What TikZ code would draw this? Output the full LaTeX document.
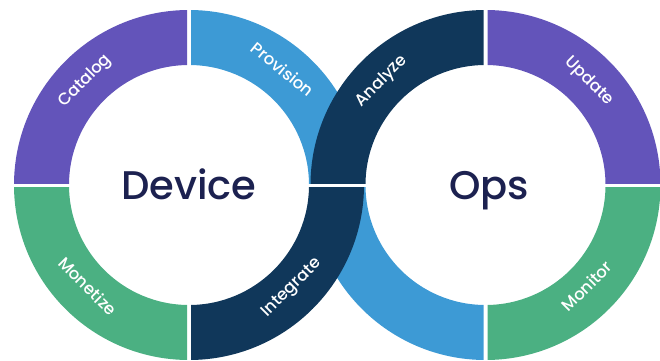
\documentclass[tikz,border=0pt]{standalone}
\usepackage{fontspec}
\setmainfont{Poppins}
\newfontfamily\medfont{Poppins Medium}
\definecolor{segPurple}{RGB}{99,84,186}
\definecolor{segBlue}{RGB}{61,154,213}
\definecolor{segNavy}{RGB}{16,55,90}
\definecolor{segGreen}{RGB}{75,176,130}
\definecolor{hubText}{RGB}{28,33,80}

% one quarter of a ring: centre, x side, y side, colour
\newcommand\ringpart[4]{%
  \begin{scope}[shift={(#1)}]
    \clip (2*#2,2*#3) rectangle (200*#2,200*#3);
    \fill[#4, even odd rule] (0,0) circle (175) (0,0) circle (120);
  \end{scope}}

\begin{document}
\begin{tikzpicture}[x=1pt, y=1pt, inner sep=0pt,
    hub/.style={text=hubText, anchor=base, font=\medfont\fontsize{40}{40}\selectfont},
    lab/.style={text=white, text height=1.6ex, text depth=0.4ex,
      font=\medfont\fontsize{16.5}{16.5}\selectfont}]
  \useasboundingbox (0,0) rectangle (660,360);
  \coordinate (L) at (189,175);
  \coordinate (R) at (485.5,175);
  \ringpart{L}{-1}{1}{segPurple}
  \ringpart{L}{-1}{-1}{segGreen}
  \ringpart{L}{1}{1}{segBlue}
  \ringpart{R}{-1}{-1}{segBlue}
  \ringpart{R}{1}{1}{segPurple}
  \ringpart{R}{1}{-1}{segGreen}
  \ringpart{L}{1}{-1}{segNavy}
  \ringpart{R}{-1}{1}{segNavy}
  \path node (Lh) at ([yshift=-14]L) [hub] {Device}
        node (La) at ([shift={(135:146)}]L) [lab, rotate=45]  {Catalog}
        node (Lb) at ([shift={(51:146)}]L)  [lab, rotate=-39] {Provision}
        node (Lc) at ([shift={(-45:146)}]L) [lab, rotate=45]  {Integrate}
        node (Ld) at ([shift={(225:146)}]L) [lab, rotate=-45] {Monetize};
  \path node (Rh) at ([xshift=3.5, yshift=-14]R) [hub] {Ops}
        node (Ra) at ([shift={(135:146)}]R) [lab, rotate=45]  {Analyze}
        node (Rb) at ([shift={(45:146)}]R)  [lab, rotate=-45] {Update}
        node (Rc) at ([shift={(-45:146)}]R) [lab, rotate=45]  {Monitor};
\end{tikzpicture}
\end{document}
